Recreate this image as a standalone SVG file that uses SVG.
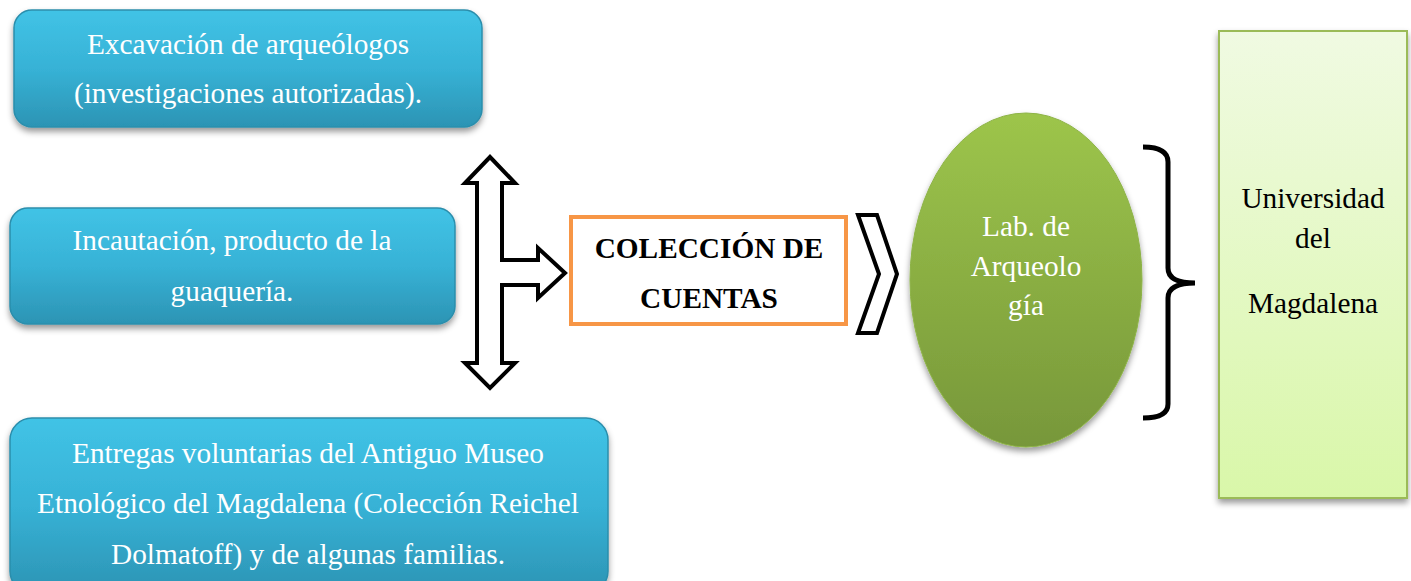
<svg xmlns="http://www.w3.org/2000/svg" width="1411" height="581" viewBox="0 0 1411 581">
<defs>
<linearGradient id="blue" x1="0" y1="0" x2="0" y2="1">
<stop offset="0" stop-color="#41c3e6"/>
<stop offset="0.5" stop-color="#37b2d6"/>
<stop offset="1" stop-color="#2c94b4"/>
</linearGradient>
<linearGradient id="green" x1="0" y1="0" x2="0" y2="1">
<stop offset="0" stop-color="#9dc54b"/>
<stop offset="1" stop-color="#77973a"/>
</linearGradient>
<linearGradient id="lime" x1="0" y1="0" x2="0" y2="1">
<stop offset="0" stop-color="#f0fae2"/>
<stop offset="1" stop-color="#d9f7a9"/>
</linearGradient>
<filter id="sh" x="-10%" y="-10%" width="130%" height="130%">
<feDropShadow dx="0" dy="4" stdDeviation="3" flood-color="#000" flood-opacity="0.4"/>
</filter>
<style>
.bx{fill:url(#blue);stroke:#2b8eac;stroke-width:1.5;filter:url(#sh)}
.wt{font-size:29.3px;fill:#fff;text-anchor:middle}
.bk{font-size:29.3px;fill:#000;text-anchor:middle}
.bd{font-size:29.3px;font-weight:bold;fill:#000;text-anchor:middle}
.ol{fill:#fff;stroke:#000;stroke-width:4;stroke-linejoin:miter}
</style>
</defs>
<g font-family="'Liberation Serif', 'Times New Roman', 'DejaVu Serif', serif">
<g id="node-excavacion">
<rect class="bx" x="14" y="10" width="468" height="117" rx="18"/>
<text class="wt" x="248" y="54">Excavación de arqueólogos</text>
<text class="wt" x="248" y="103">(investigaciones autorizadas).</text>
</g>
<g id="node-incautacion">
<rect class="bx" x="10" y="208" width="445" height="116" rx="18"/>
<text class="wt" x="232" y="250">Incautación, producto de la</text>
<text class="wt" x="232" y="301">guaquería.</text>
</g>
<g id="node-entregas">
<rect class="bx" x="10" y="418" width="598" height="175" rx="22"/>
<text class="wt" x="308" y="463">Entregas voluntarias del Antiguo Museo</text>
<text class="wt" x="308" y="513">Etnológico del Magdalena (Colección Reichel</text>
<text class="wt" x="308" y="564">Dolmatoff) y de algunas familias.</text>
</g>
<g id="connectors">
<path class="ol" d="M490,157 L515,183 L502,183 L502,260 L538,260 L538,248 L565,273 L538,298 L538,285 L502,285 L502,363 L515,363 L490,388 L465,363 L477,363 L477,183 L465,183 Z"/>
<path class="ol" d="M858,215 L877,215 L897,274 L877,333 L858,333 L879,274 Z"/>
<path d="M1143,147 Q1168,147 1168,162 L1168,268 Q1168,283 1195,283 Q1168,283 1168,298 L1168,404 Q1168,418 1143,418" fill="none" stroke="#000" stroke-width="5"/>
</g>
<g id="node-coleccion">
<rect x="571" y="217" width="275" height="107" fill="#fff" stroke="#f79646" stroke-width="4"/>
<text class="bd" x="709" y="258">COLECCIÓN DE</text>
<text class="bd" x="709" y="308">CUENTAS</text>
</g>
<g id="node-lab">
<ellipse cx="1026" cy="280" rx="116" ry="167" fill="url(#green)" stroke="#8db347" stroke-width="1" filter="url(#sh)"/>
<text class="wt" x="1026" y="236">Lab. de</text>
<text class="wt" x="1026" y="276">Arqueolo</text>
<text class="wt" x="1026" y="315">gía</text>
</g>
<g id="node-universidad">
<rect x="1219" y="31" width="188" height="467" fill="url(#lime)" stroke="#9bbb59" stroke-width="2" filter="url(#sh)"/>
<text class="bk" x="1313" y="208">Universidad</text>
<text class="bk" x="1313" y="248">del</text>
<text class="bk" x="1313" y="313">Magdalena</text>
</g>
</g>
</svg>
